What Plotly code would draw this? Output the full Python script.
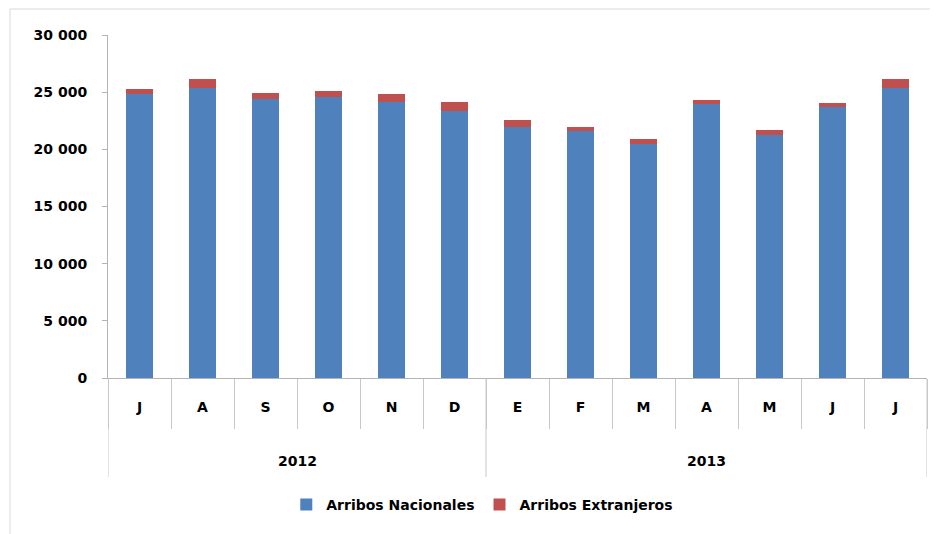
import plotly.graph_objects as go

years = ["2012", "2013"]
months_per_year = [6, 7]
months = ["J", "A", "S", "O", "N", "D", "E", "F", "M", "A", "M", "J", "J"]
nacionales = [24840, 25390, 24400, 24550, 24140, 23380, 21950, 21580, 20440, 23940, 21250, 23680, 25360]
extranjeros = [410, 730, 550, 580, 670, 760, 610, 400, 440, 350, 470, 350, 760]
y_ticks = [0, 5000, 10000, 15000, 20000, 25000, 30000]
y_tick_labels = ["0", "5 000", "10 000", "15 000", "20 000", "25 000", "30 000"]

FONT = "DejaVu Sans, Verdana, sans-serif"
BLACK_BOLD = dict(family=FONT, size=14, color="black", weight="bold")
GRID = "#B4B4B4"

xs = [str(i) for i in range(len(months))]

fig = go.Figure()
fig.add_trace(go.Bar(x=xs, y=nacionales, name="Arribos Nacionales",
                     marker=dict(color="#4F81BD", line=dict(width=0)), width=0.42))
fig.add_trace(go.Bar(x=xs, y=extranjeros, name="Arribos Extranjeros",
                     marker=dict(color="#C0504D", line=dict(width=0)), width=0.42))

PLOT_H = 343
fig.update_layout(
    barmode="stack",
    width=930, height=526,
    margin=dict(l=100, r=11, t=27, b=156),
    paper_bgcolor="white", plot_bgcolor="white",
    font=BLACK_BOLD,
    showlegend=True,
    legend=dict(orientation="h", x=0.457, xanchor="center", y=(378 - 505) / PLOT_H, yanchor="middle",
                font=BLACK_BOLD, traceorder="normal", itemwidth=30),
    xaxis=dict(type="category", range=[-0.5, len(months) - 0.5], tickvals=xs, ticktext=months,
               showline=True, linecolor=GRID, linewidth=1,
               ticks="outside", tickson="boundaries", ticklen=50, tickcolor="#C8C8C8", tickwidth=1,
               ticklabelstandoff=16,
               showgrid=False, zeroline=False, automargin=False, tickfont=BLACK_BOLD),
    yaxis=dict(range=[0, 30000], tickvals=y_ticks, ticktext=y_tick_labels,
               showline=True, linecolor=GRID, linewidth=1,
               ticks="outside", ticklen=5, tickcolor=GRID,
               ticklabelstandoff=12,
               showgrid=False, zeroline=False, automargin=False,
               tickfont=BLACK_BOLD),
)

# year group dividers and labels
boundaries = [-0.5]
for n in months_per_year:
    boundaries.append(boundaries[-1] + n)
for b in boundaries:
    fig.add_shape(type="line", xref="x", yref="paper", x0=b, x1=b,
                  y0=(378 - 477) / PLOT_H, y1=0, line=dict(color="#C8C8C8", width=1))
for i, yr in enumerate(years):
    fig.add_annotation(xref="x", yref="paper", x=(boundaries[i] + boundaries[i + 1]) / 2,
                       y=(378 - 461) / PLOT_H, text=yr, showarrow=False,
                       font=BLACK_BOLD, yanchor="middle")

# outer chart-area border
fig.add_shape(type="rect", xref="paper", yref="paper",
              x0=(10 - 108) / 819, x1=(945 - 108) / 819,
              y0=-0.6, y1=(378 - 9) / PLOT_H,
              line=dict(color="#D9D9D9", width=1), layer="below")

fig.write_html("out.html")
